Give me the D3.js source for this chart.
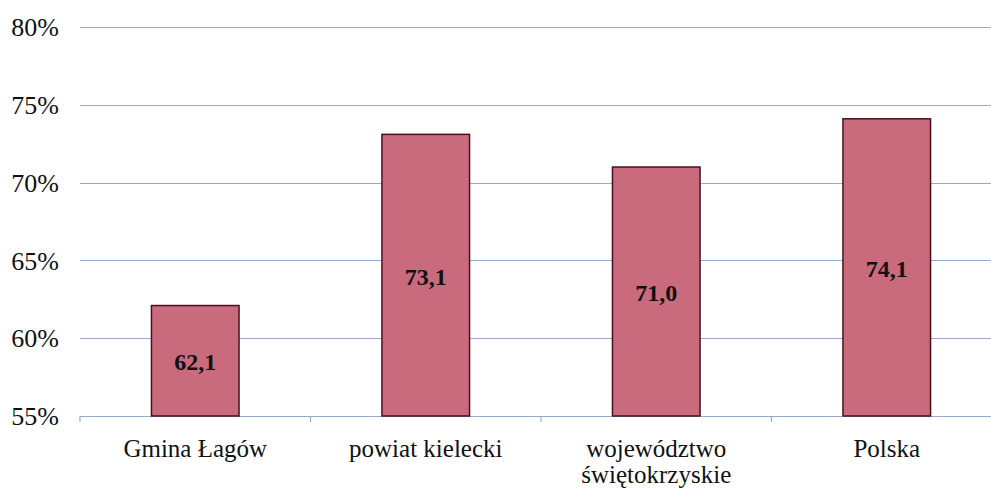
<!DOCTYPE html>
<html><head><meta charset="utf-8">
<script src="https://cdn.jsdelivr.net/npm/d3@7"></script>
<style>
html,body{margin:0;padding:0;background:#fff;}
svg{display:block;}
</style></head>
<body>
<svg id="chart" width="991" height="489"></svg>
<script>
const categories = ["Gmina Łagów", "powiat kielecki", "województwo\nświętokrzyskie", "Polska"];
const values = [62.1, 73.1, 71.0, 74.1];
const valueLabels = ["62,1", "73,1", "71,0", "74,1"];
const yTicks = [55, 60, 65, 70, 75, 80];

(function () {
const svg = d3.select("#chart");
const mLeft = 80, mRight = 1002, mTop = 27, mBottom = 416;
const font = "'Liberation Serif','Times New Roman',serif";

const x = d3.scaleBand().domain(categories).range([mLeft, mRight]).paddingInner(0.62).paddingOuter(0.31);
const y = d3.scaleLinear().domain([55, 80]).range([mBottom, mTop]);

// gridlines
svg.append("g").selectAll("line").data(yTicks).join("line")
  .attr("x1", mLeft).attr("x2", 991)
  .attr("y1", d => Math.round(y(d)) + 0.5).attr("y2", d => Math.round(y(d)) + 0.5)
  .attr("stroke", "#97abcb").attr("stroke-width", 1.2);

// y tick labels
svg.append("g").selectAll("text").data(yTicks).join("text")
  .attr("x", 59).attr("y", d => y(d)).attr("dy", "0.35em")
  .attr("text-anchor", "end")
  .style("font-family", font).style("font-size", "26px").attr("fill", "#111")
  .text(d => d + "%");

// x ticks
const tickXs = d3.range(categories.length + 1).map(i => mLeft + i * (mRight - mLeft) / categories.length);
svg.append("g").selectAll("line").data(tickXs).join("line")
  .attr("x1", d => d).attr("x2", d => d)
  .attr("y1", mBottom).attr("y2", mBottom + 6)
  .attr("stroke", "#97abcb").attr("stroke-width", 1.2);

// bars
svg.append("g").selectAll("rect").data(values).join("rect")
  .attr("x", (d, i) => x(categories[i]))
  .attr("width", x.bandwidth())
  .attr("y", d => y(d))
  .attr("height", d => y(55) - y(d))
  .attr("fill", "#c96a7d")
  .attr("stroke", "#4a1020").attr("stroke-width", 1.5);

// value labels
svg.append("g").selectAll("text").data(values).join("text")
  .attr("x", (d, i) => x(categories[i]) + x.bandwidth() / 2)
  .attr("y", d => (y(d) + y(55)) / 2 + 1)
  .attr("dy", "0.35em")
  .attr("text-anchor", "middle")
  .style("font-family", font).style("font-size", "24px").style("font-weight", "bold")
  .attr("fill", "#111")
  .text((d, i) => valueLabels[i]);

// category labels
const cl = svg.append("g").selectAll("text").data(categories).join("text")
  .attr("text-anchor", "middle")
  .style("font-family", font).style("font-size", "25px").attr("fill", "#111")
  .attr("transform", d => `translate(${x(d) + x.bandwidth() / 2},${mBottom + 41})`);
cl.selectAll("tspan").data(d => d.split("\n")).join("tspan")
  .attr("x", 0).attr("dy", (d, i) => i === 0 ? 0 : 26)
  .text(d => d);
})();
</script>
</body></html>
